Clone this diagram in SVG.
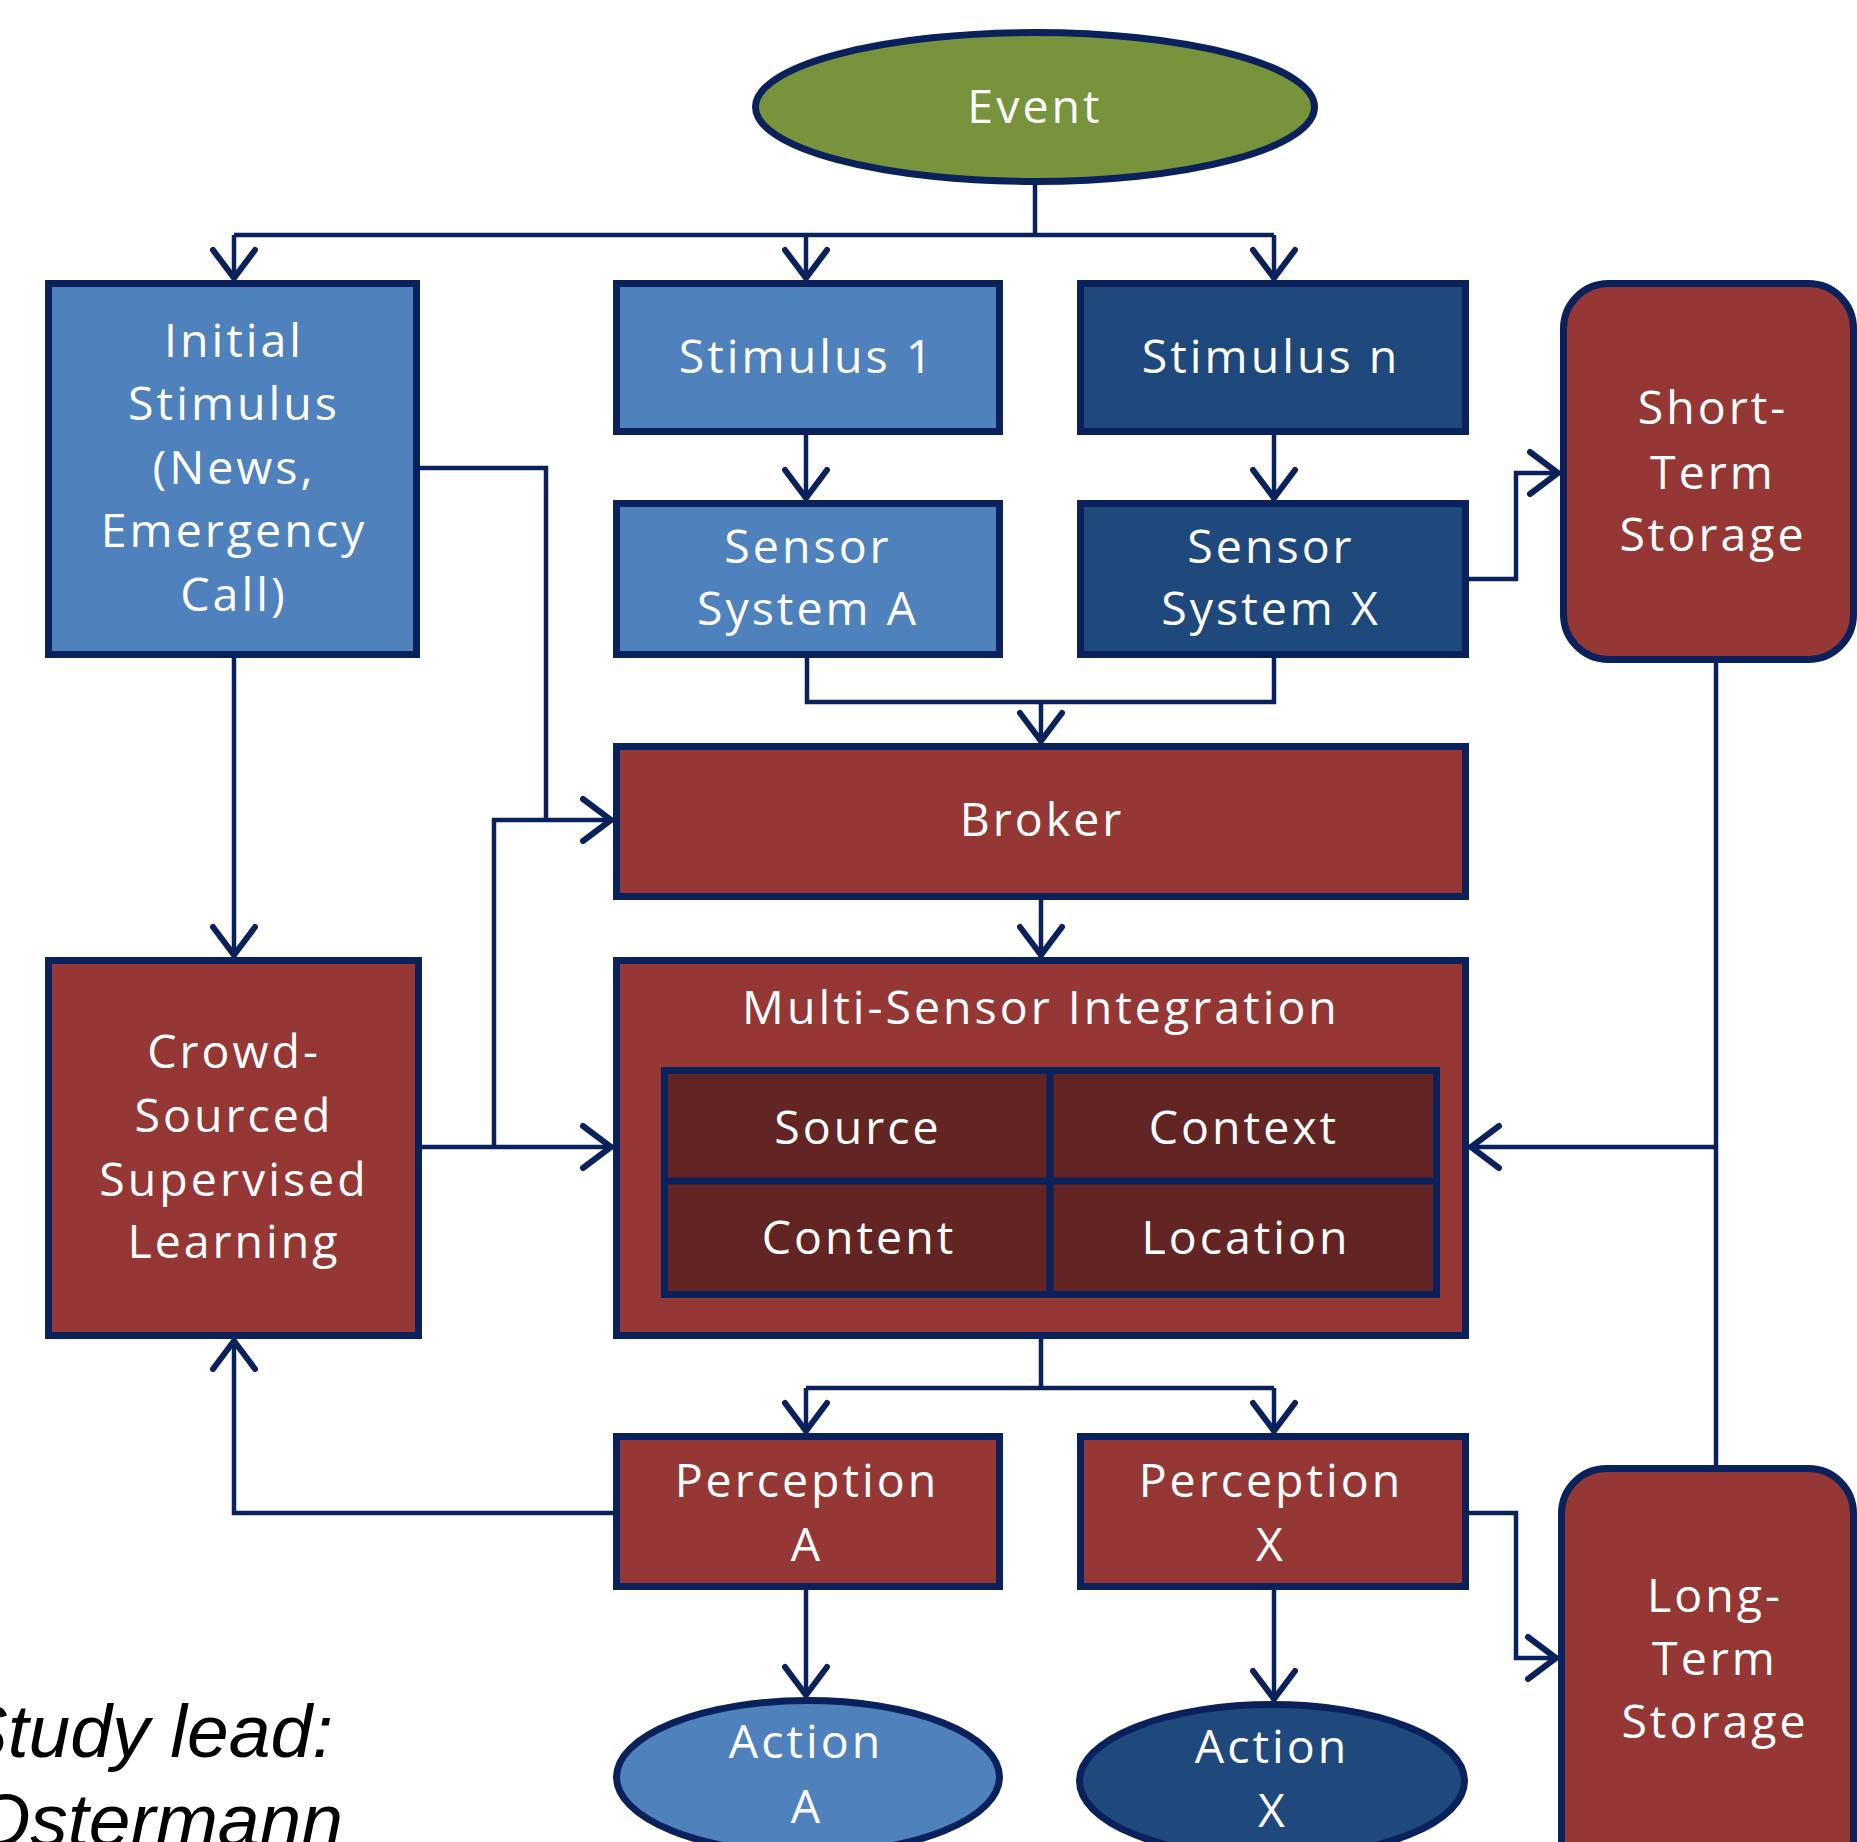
<svg xmlns="http://www.w3.org/2000/svg" width="1857" height="1842" viewBox="0 0 1857 1842">
<style>
.box{stroke:#0b215c;stroke-width:7;stroke-linejoin:miter}
.lb{fill:#4f81bd}
.db{fill:#1f497d}
.rd{fill:#953735}
.dr{fill:#632523}
.gr{fill:#77933c}
.t{font-family:"Open Sans","DejaVu Sans",sans-serif;font-size:46.5px;letter-spacing:3px;fill:#ffffff;text-anchor:middle}
.c{fill:none;stroke:#0b215c;stroke-width:4.5;stroke-linejoin:miter}
.s{font-family:"Liberation Sans",Arial,sans-serif;font-style:italic;font-size:75px;fill:#000000;text-anchor:end}
</style>
<defs>
<marker id="ah" markerUnits="userSpaceOnUse" markerWidth="60" markerHeight="60" viewBox="-40 -30 50 60" refX="0" refY="0" orient="auto">
<path d="M-30,-21 L-2,0 L-30,21" fill="none" stroke="#0b215c" stroke-width="6" stroke-linecap="round" stroke-linejoin="miter"/>
</marker>
</defs>
<rect width="1857" height="1842" fill="#ffffff"/>

<g id="connectors">
<path class="c" d="M1035,182 V235"/>
<path class="c" d="M234,235 H1274"/>
<path class="c" d="M234,235 V280" marker-end="url(#ah)"/>
<path class="c" d="M806,235 V280" marker-end="url(#ah)"/>
<path class="c" d="M1274,235 V280" marker-end="url(#ah)"/>
<path class="c" d="M806,435 V500" marker-end="url(#ah)"/>
<path class="c" d="M1274,435 V500" marker-end="url(#ah)"/>
<path class="c" d="M807,658 V702 H1274 V658"/>
<path class="c" d="M1041,702 V743" marker-end="url(#ah)"/>
<path class="c" d="M420,468 H546 V820"/>
<path class="c" d="M494,1147 V820 H613" marker-end="url(#ah)"/>
<path class="c" d="M420,1147 H613" marker-end="url(#ah)"/>
<path class="c" d="M234,658 V957" marker-end="url(#ah)"/>
<path class="c" d="M1041,900 V957" marker-end="url(#ah)"/>
<path class="c" d="M1716,663 V1465"/>
<path class="c" d="M1716,1147 H1469" marker-end="url(#ah)"/>
<path class="c" d="M1469,579 H1516 V473 H1560" marker-end="url(#ah)"/>
<path class="c" d="M1041,1339 V1388"/>
<path class="c" d="M806,1388 H1274"/>
<path class="c" d="M806,1388 V1433" marker-end="url(#ah)"/>
<path class="c" d="M1274,1388 V1433" marker-end="url(#ah)"/>
<path class="c" d="M613,1513 H234 V1339" marker-end="url(#ah)"/>
<path class="c" d="M1469,1513 H1516 V1658 H1558" marker-end="url(#ah)"/>
<path class="c" d="M806,1590 V1697" marker-end="url(#ah)"/>
<path class="c" d="M1274,1590 V1701" marker-end="url(#ah)"/>
</g>

<g id="event">
<ellipse class="box gr" cx="1035" cy="107" rx="279.5" ry="74.5"/>
<text class="t" x="1035" y="123">Event</text>
</g>

<g id="initial-stimulus">
<rect class="box lb" x="48.5" y="283.5" width="368" height="371"/>
<text class="t" x="234" y="357">Initial</text>
<text class="t" x="234" y="420">Stimulus</text>
<text class="t" x="234" y="484">(News,</text>
<text class="t" x="234" y="547">Emergency</text>
<text class="t" x="234" y="611">Call)</text>
</g>

<g id="stimulus-1">
<rect class="box lb" x="616.5" y="283.5" width="383" height="148"/>
<text class="t" x="807" y="373">Stimulus 1</text>
</g>

<g id="stimulus-n">
<rect class="box db" x="1080.5" y="283.5" width="385" height="148"/>
<text class="t" x="1271" y="373">Stimulus n</text>
</g>

<g id="short-term-storage">
<rect class="box rd" x="1563.5" y="283.5" width="290" height="376" rx="45" ry="45"/>
<text class="t" x="1713" y="424">Short-</text>
<text class="t" x="1713" y="489">Term</text>
<text class="t" x="1713" y="551">Storage</text>
</g>

<g id="sensor-system-a">
<rect class="box lb" x="616.5" y="503.5" width="383" height="151"/>
<text class="t" x="808" y="563">Sensor</text>
<text class="t" x="808" y="625">System A</text>
</g>

<g id="sensor-system-x">
<rect class="box db" x="1080.5" y="503.5" width="385" height="151"/>
<text class="t" x="1271" y="563">Sensor</text>
<text class="t" x="1271" y="625">System X</text>
</g>

<g id="broker">
<rect class="box rd" x="616.5" y="746.5" width="849" height="150"/>
<text class="t" x="1042" y="836">Broker</text>
</g>

<g id="crowd-sourced">
<rect class="box rd" x="48.5" y="960.5" width="370" height="375"/>
<text class="t" x="234" y="1068">Crowd-</text>
<text class="t" x="234" y="1132">Sourced</text>
<text class="t" x="234" y="1196">Supervised</text>
<text class="t" x="234" y="1258">Learning</text>
</g>

<g id="multi-sensor-integration">
<rect class="box rd" x="616.5" y="960.5" width="849" height="375"/>
<text class="t" x="1041" y="1024">Multi-Sensor Integration</text>
<rect class="box dr" x="664.5" y="1070.5" width="772" height="224"/>
<path d="M1050,1070 V1295 M664,1181 H1437" stroke="#0b215c" stroke-width="7" fill="none"/>
<text class="t" x="858" y="1144">Source</text>
<text class="t" x="1244" y="1144">Context</text>
<text class="t" x="859" y="1254">Content</text>
<text class="t" x="1246" y="1254">Location</text>
</g>

<g id="perception-a">
<rect class="box rd" x="616.5" y="1436.5" width="383" height="150"/>
<text class="t" x="807" y="1497">Perception</text>
<text class="t" x="807" y="1561">A</text>
</g>

<g id="perception-x">
<rect class="box rd" x="1080.5" y="1436.5" width="385" height="150"/>
<text class="t" x="1271" y="1497">Perception</text>
<text class="t" x="1271" y="1561">X</text>
</g>

<g id="long-term-storage">
<rect class="box rd" x="1561.5" y="1468.5" width="292" height="450" rx="45" ry="45"/>
<text class="t" x="1715" y="1612">Long-</text>
<text class="t" x="1715" y="1675">Term</text>
<text class="t" x="1715" y="1738">Storage</text>
</g>

<g id="action-a">
<ellipse class="box lb" cx="808" cy="1777" rx="191.5" ry="76.5"/>
<text class="t" x="806" y="1758">Action</text>
<text class="t" x="807" y="1823">A</text>
</g>

<g id="action-x">
<ellipse class="box db" cx="1272" cy="1781" rx="192.5" ry="76.5"/>
<text class="t" x="1272" y="1763">Action</text>
<text class="t" x="1273" y="1827">X</text>
</g>

<g id="study-lead">
<text class="s" x="333" y="1757">Study lead:</text>
<text class="s" x="343" y="1846">Ostermann</text>
</g>
</svg>
